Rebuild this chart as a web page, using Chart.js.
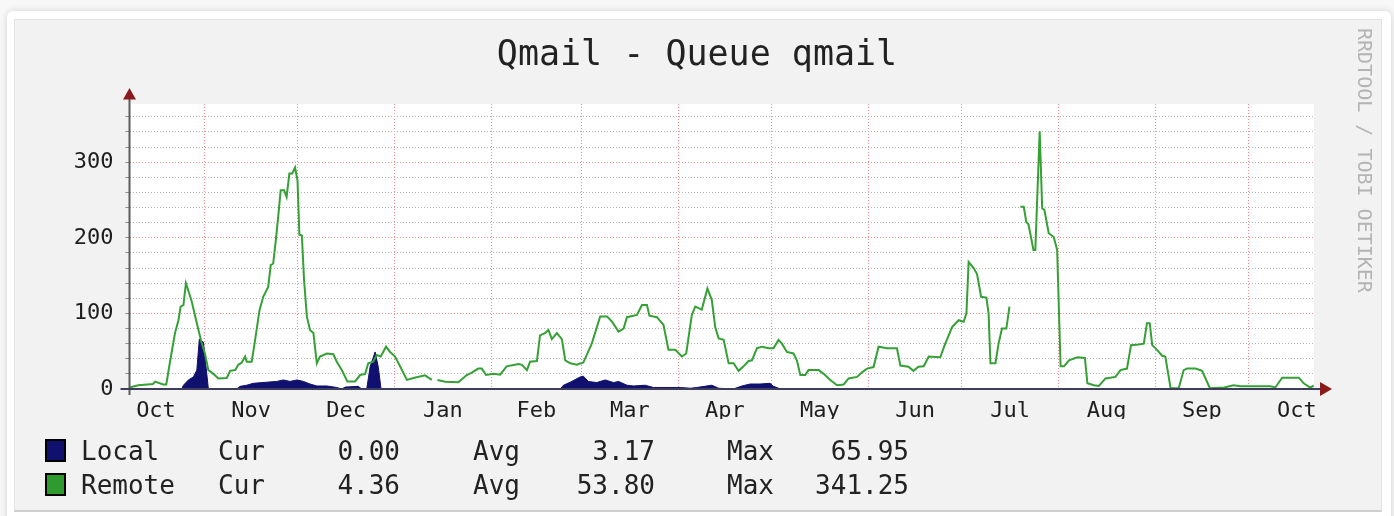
<!DOCTYPE html>
<html>
<head>
<meta charset="utf-8">
<title>Qmail - Queue qmail</title>
<script src="https://cdn.jsdelivr.net/npm/chart.js@4.4.1/dist/chart.umd.min.js"></script>
<style>
  html, body { margin: 0; padding: 0; }
  body { width: 1394px; height: 516px; background: #f8f8f8; position: relative; overflow: hidden; font-family: "DejaVu Sans Mono", monospace; }
  #card { position: absolute; left: 7px; top: 11px; width: 1384px; height: 520px; background: #fff; border-radius: 6px; box-shadow: 0 0 7px rgba(0,0,0,0.16); }
  #panel { position: absolute; left: 14px; top: 19px; width: 1366px; height: 490px; background: #f2f2f2; border: 1px solid #e3e3e3; border-bottom: 2px solid #cfcfcf; }
  #chart { position: absolute; left: 0; top: 0; }
  #title { position: absolute; left: 0; top: 33px; width: 1394px; text-align: center; font-size: 35px; line-height: 40px; color: #222; }
  #credit { position: absolute; left: 1355px; top: 28px; writing-mode: vertical-rl; font-size: 20px; line-height: 20px; color: #b4b4b4; white-space: pre; }
  .lg { position: absolute; font-size: 26px; line-height: 30px; color: #222; white-space: pre; }
  .sw { position: absolute; left: 45px; width: 17px; height: 19px; border: 2px solid #000; }
</style>
</head>
<body>
<div id="card"></div>
<div id="panel"></div>
<canvas id="chart" width="1394" height="516"></canvas>
<div id="title">Qmail - Queue qmail</div>
<div id="credit">RRDTOOL / TOBI OETIKER</div>
<div id="legend"></div>
<script>
// x axis: days since the start of the graph (8 Oct), one year + ~3 weeks
const xMax = 380;
const monthStarts = [24, 54, 85, 116, 145, 176, 206, 237, 267, 298, 329, 359];
const monthMids = [8.5, 39, 69.5, 100.5, 130.5, 160.5, 191, 221.5, 252, 282.5, 313.5, 344, 374.5];
const monthLabels = ['Oct', 'Nov', 'Dec', 'Jan', 'Feb', 'Mar', 'Apr', 'May', 'Jun', 'Jul', 'Aug', 'Sep', 'Oct'];

// y axis
const yMax = 377;
const yStep = 20;
const yLabelStep = 100;

// Remote queue (green line), null = no data
const remoteDays = [
  0, 2.8, 7.5, 8.2, 10.8, 11.8, 13, 14.6, 15.7, 16.4,
  17.3, 18.1, 19.2, 20, 21.6, 23.2, 24.2, 25.3, 26.9, 28.5,
  31.2, 32.3, 33.9, 34.9, 36, 37.1, 37.6, 39.2, 40.3, 41.7,
  42.9, 44.5, 45.3, 46.1, 47, 47.8, 48.5, 49.6, 50.4, 51.3,
  52.2, 53.1, 53.9, 54.5, 55.3, 56, 56.9, 57.9, 59, 60.1,
  61.1, 63.3, 65.4, 66.5, 68.1, 69.9, 72.4, 74, 75.6, 76.6,
  78.2, 79.3, 80.6, 82.3, 83.6, 85.2, 86.8, 89, 91.1, 94.8,
  95.9, 97, 98, 98.8, 101.3, 105.5, 108.2, 109.8, 111.9, 113,
  114.4, 116.8, 118.9, 121, 124.8, 125.9, 127.5, 128.5, 130.7, 131.7,
  133.3, 134.4, 135.5, 137.1, 138.7, 139.8, 141.4, 143.5, 145.6, 148.3,
  151, 153.2, 154.8, 156.9, 158.5, 159.6, 162.8, 164.4, 166, 166.8,
  169.2, 171.3, 172.9, 175.1, 177.2, 178.6, 180.4, 181.5, 183.6, 185.4,
  186.8, 187.9, 189, 190.6, 192.2, 193.8, 195.4, 197, 198.6, 199.7,
  201.3, 202.9, 205, 206.6, 208.2, 209.3, 210.9, 213, 214.1, 215.2,
  216.8, 217.8, 221.1, 222.7, 224.8, 227, 229.1, 230.7, 233.4, 235,
  236.6, 238.7, 240.3, 243, 246.2, 247.3, 249.9, 251.5, 253.1, 254.8,
  256.4, 260.1, 261.7, 263.9, 266, 267.6, 268.5, 269.2, 270.8, 271.9,
  273.2, 274.9, 275.6, 276.2, 277.8, 278.8, 279.9, 281.3, 282.3, 284,
  285.8, 286.9, 287.7, 288.4, 290, 290.6, 292, 292.8, 293.5, 294.9,
  296.5, 297.6, 298.7, 299.8, 301.4, 304.1, 306.5, 307.3, 309.4, 311,
  313.1, 316.3, 317.9, 320, 321.3, 323.7, 325.4, 326.4, 327.3, 328.1,
  329.7, 331.3, 332.3, 334, 336.6, 338.2, 339.3, 342, 344.1, 346.6,
  351.2, 354.2, 356.4, 366, 367.6, 369.8, 375.1, 376.7, 378.8, 379.9
];
const remoteValues = [
  2, 5, 6.5, 9.7, 6, 6, 36, 74, 91, 109,
  111, 140, 126, 115, 87, 60, 47, 25, 20, 14,
  14.5, 24, 25, 32, 35, 43, 36, 36, 65, 104,
  122, 135, 164, 166, 199, 232, 263, 263, 254, 285,
  285, 293, 276, 204, 203, 144, 96, 78, 74, 34,
  43, 47, 46, 36, 25, 10, 10, 18.5, 20, 34,
  36, 45, 43, 56, 49, 43, 30, 12, 14.5, 18,
  15, 12, null, 12, 9.7, 9, 18.5, 21.6, 27, 27,
  18.5, 20, 19, 30, 33, 32, 25, 36, 37, 71,
  74, 78, 66, 74, 66, 38, 34, 32, 35, 60,
  96, 96, 89, 76, 80, 95, 98, 111, 111, 97,
  95, 85, 52, 52, 43, 47, 98, 109, 105, 133,
  118, 82, 67, 65, 34, 34, 24, 30, 37, 38,
  54, 56, 54, 54, 65, 60, 49, 47, 38, 18.5,
  18.5, 25, 25, 20, 12, 5, 6, 14, 16, 22,
  27, 29, 56, 54, 54, 31, 29.5, 24, 29.5, 30,
  43, 42, 60, 82, 91, 89, 100, 168, 160, 152,
  122, 121, 100, 34, 34, 60, 80, 80, 109, null,
  241, 241, 221, 218, 184, 184, 341, 239, 237, 206,
  201, 184, 30, 30, 38, 42, 41, 7.5, 5, 4,
  14, 16, 25, 27, 58, 59, 60, 87, 87, 58,
  51.5, 44, 43, 1, 1, 25, 27, 27, 24, 1,
  2, 5, 3.5, 3.5, 2, 15, 15, 7.5, 2, 4.36
];

// Local queue (navy area)
const localDays = [
  0, 16.8, 17.3, 18.9, 20.5, 21.6, 22.4, 23.7, 24.8, 25.3,
  34.4, 35.5, 37.6, 39.7, 44, 47.2, 49.4, 51.5, 53.7, 55.8,
  57.9, 60.1, 63.3, 66.5, 68.1, 69.2, 73.4, 74.5, 76.1, 77.2,
  78.8, 79.8, 80.7, 138.2, 139.2, 141.4, 144.6, 145.6, 147.2, 149.9,
  152.6, 155.3, 156.9, 159.6, 161.7, 165.4, 168.1, 172.4, 176.7, 179.9,
  182, 186.8, 189, 193.7, 196.5, 199.1, 202.3, 205.5, 206.6, 208.2,
  209.3, 380
];
const localValues = [
  0, 0, 5, 12, 16, 25, 66, 62, 20, 0,
  0, 3.5, 5, 7.5, 9, 10, 12, 10, 12, 10,
  6.6, 4, 4, 2, 0, 2.5, 3.5, 0, 0, 29.5,
  49, 29.5, 0, 0, 5, 9, 16, 17, 10, 8.5,
  12, 8.5, 10, 5, 4, 5, 2, 2, 2, 1,
  2, 5, 1, 0, 4, 6.6, 6.6, 7.5, 3.5, 1,
  0, 0
];

// legend rows: name, colour, cur, avg, max
const legendNames = ['Local', 'Remote'];
const legendColors = ['#10106e', '#2f9a2f'];
const legendCur = ['0.00', '4.36'];
const legendAvg = ['3.17', '53.80'];
const legendMax = ['65.95', '341.25'];

const tickFont = { family: 'DejaVu Sans Mono', size: 22 };

// white plot area + axis lines with arrows, like rrdtool
const rrdFrame = {
  id: 'rrdFrame',
  beforeDraw(chart) {
    const { ctx, chartArea: a } = chart;
    ctx.save();
    ctx.fillStyle = '#ffffff';
    ctx.fillRect(a.left, a.top, a.right - a.left, a.bottom - a.top);
    ctx.restore();
  },
  afterDraw(chart) {
    const { ctx, chartArea: a } = chart;
    ctx.save();
    ctx.lineWidth = 2;
    ctx.strokeStyle = '#5c5c5c';
    ctx.beginPath();
    ctx.moveTo(a.left, a.bottom + 6);
    ctx.lineTo(a.left, a.top - 6);
    ctx.stroke();
    ctx.strokeStyle = '#3e3e5c';
    ctx.beginPath();
    ctx.moveTo(a.left - 9, a.bottom);
    ctx.lineTo(a.right + 7, a.bottom);
    ctx.stroke();
    ctx.fillStyle = '#8b1a1a';
    ctx.beginPath();
    ctx.moveTo(a.left - 6.5, a.top - 4.5);
    ctx.lineTo(a.left + 6.5, a.top - 4.5);
    ctx.lineTo(a.left, a.top - 16);
    ctx.closePath();
    ctx.fill();
    ctx.beginPath();
    ctx.moveTo(a.right + 6, a.bottom - 7);
    ctx.lineTo(a.right + 6, a.bottom + 7);
    ctx.lineTo(a.right + 18, a.bottom);
    ctx.closePath();
    ctx.fill();
    ctx.restore();
  }
};

new Chart(document.getElementById('chart'), {
  type: 'line',
  data: {
    datasets: [{
      label: 'Local',
      data: localDays.map((d, i) => ({ x: d, y: localValues[i] })),
      borderColor: legendColors[0],
      backgroundColor: legendColors[0],
      borderWidth: 1,
      fill: 'origin',
      pointRadius: 0,
      tension: 0,
      order: 2
    }, {
      label: 'Remote',
      data: remoteDays.map((d, i) => ({ x: d, y: remoteValues[i] })),
      borderColor: '#35a035',
      borderWidth: 2,
      fill: false,
      pointRadius: 0,
      tension: 0,
      spanGaps: false,
      order: 1
    }]
  },
  options: {
    responsive: false,
    animation: false,
    layout: { padding: { left: 69.5, right: 80, top: 104, bottom: 97 } },
    plugins: {
      legend: { display: false },
      tooltip: { enabled: false }
    },
    scales: {
      x: {
        type: 'linear',
        min: 0,
        max: xMax,
        afterBuildTicks(scale) {
          scale.ticks = monthStarts.concat(monthMids).sort((a, b) => a - b).map(v => ({ value: v }));
        },
        afterFit(scale) { scale.height = 30; },
        grid: {
          color: ctx => (ctx.tick && monthStarts.includes(ctx.tick.value)) ? '#f08c8c' : 'rgba(0,0,0,0)',
          drawTicks: false
        },
        border: { display: false, dash: [1, 2] },
        ticks: {
          autoSkip: false,
          maxRotation: 0,
          padding: 9,
          color: '#1e1e1e',
          font: tickFont,
          callback: v => {
            const i = monthMids.indexOf(v);
            return i >= 0 ? monthLabels[i] : '';
          }
        }
      },
      y: {
        min: 0,
        max: yMax,
        afterBuildTicks(scale) {
          const t = [];
          for (let v = 0; v <= yMax; v += yStep) t.push({ value: v });
          scale.ticks = t;
        },
        afterFit(scale) { scale.width = 60; },
        grid: {
          color: ctx => {
            const v = ctx.tick ? ctx.tick.value : 0;
            if (v === 0) return 'rgba(0,0,0,0)';
            return v % yLabelStep === 0 ? '#f08c8c' : '#b4b4b4';
          },
          tickColor: '#8a8a8a',
          tickLength: 4
        },
        border: { display: false, dash: [1, 2] },
        ticks: {
          autoSkip: false,
          padding: 12,
          color: '#1e1e1e',
          font: tickFont,
          callback: v => v % yLabelStep === 0 ? String(v) : ''
        }
      }
    }
  },
  plugins: [rrdFrame]
});

// rrdtool style legend under the graph
const legend = document.getElementById('legend');
legendNames.forEach((name, i) => {
  const top = 436 + i * 34;
  const add = (text, style) => {
    const el = document.createElement('div');
    el.className = 'lg';
    el.textContent = text;
    el.style.cssText = style + 'top:' + top + 'px;';
    legend.appendChild(el);
  };
  const sw = document.createElement('div');
  sw.className = 'sw';
  sw.style.top = (439 + i * 34) + 'px';
  sw.style.background = legendColors[i];
  legend.appendChild(sw);
  add(name, 'left:81px;');
  add('Cur', 'left:218px;');
  add(legendCur[i], 'right:994px;');
  add('Avg', 'left:473px;');
  add(legendAvg[i], 'right:739px;');
  add('Max', 'left:727px;');
  add(legendMax[i], 'right:485px;');
});
</script>
</body>
</html>
